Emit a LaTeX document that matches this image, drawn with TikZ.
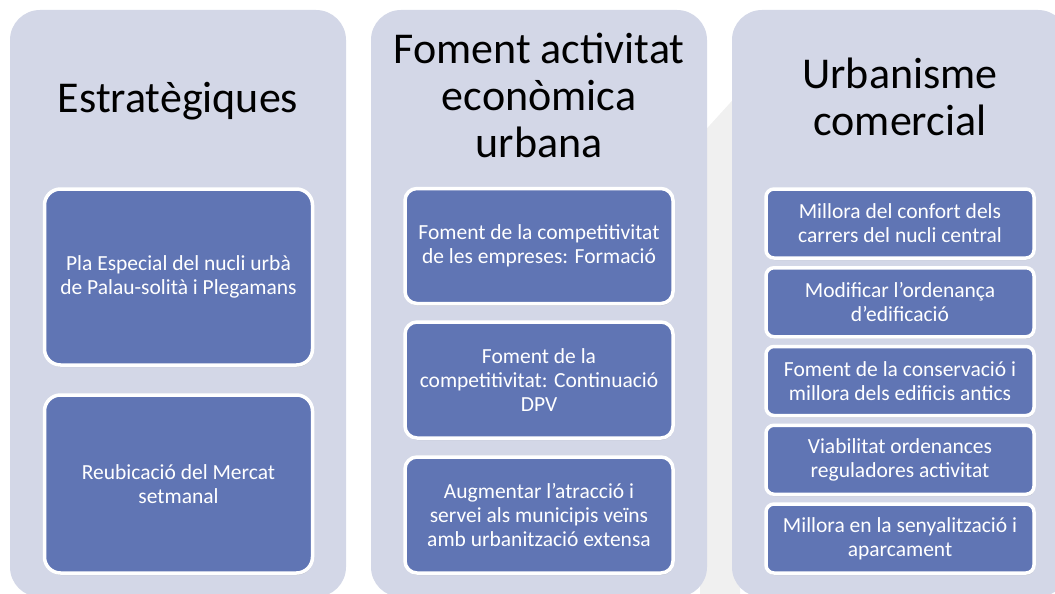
\documentclass[tikz,border=0pt]{standalone}
\usepackage{fontspec}
\setmainfont{Carlito}
\usetikzlibrary{shadows, positioning}
\definecolor{fonscol}{RGB}{211,215,231}
\definecolor{blaucaixa}{RGB}{96,117,180}
\tikzset{
    columna/.style={fill=fonscol, rounded corners=30pt},
    titol/.style={align=center, font=\fontsize{44}{47}\selectfont, inner sep=0pt, anchor=base},
    caixa/.style={draw=white, fill=blaucaixa, line width=3.5pt, text=white, align=center,
        font=\fontsize{21.5}{24}\selectfont, inner sep=0pt, minimum width=268pt,
        drop shadow={shadow xshift=0.6pt, shadow yshift=-2pt, opacity=0.3}},
}
\begin{document}
\begin{tikzpicture}[x=1pt, y=-1pt]
\useasboundingbox (0,0) rectangle (1055,594);
% faint arrow behind the columns
\fill[black!6] (700,136) -- (740,92) -- (740,600) -- (700,600) -- cycle;
% Columns
\fill[columna] (10,10) rectangle (346,597);
\fill[columna] (371,10) rectangle (707,597);
\fill[columna] (732,10) rectangle (1068,597);
% Column 1: estrategiques
\node[titol] (estr) at (178,112) {Estratègiques};
\node[caixa, rounded corners=16pt, minimum height=176pt] (pla) at (178.5,277)
    {Pla Especial del nucli urbà\\de Palau-solità i Plegamans};
\node[caixa, rounded corners=16pt, minimum height=178pt] (merc) at (178.5,484)
    {Reubicació del Mercat\\setmanal};
% Column 2: foment
\node[titol] (fom) at (539,157) {Foment activitat\\econòmica\\urbana};
\node[caixa, rounded corners=12pt, minimum height=115pt] (form) at (539,246)
    {Foment de la competitivitat\\de les empreses: Formació};
\node[caixa, rounded corners=12pt, minimum height=116pt] (dpv) at (539,380)
    {Foment de la\\competitivitat: Continuació\\DPV};
\node[caixa, rounded corners=12pt, minimum height=116pt] (atr) at (539,515)
    {Augmentar l’atracció i\\servei als municipis veïns\\amb urbanització extensa};
% Column 3: urbanisme
\node[titol] (urb) at (900,135) {Urbanisme\\comercial};
\foreach \y/\txt [count=\i] in {
    223.5/{Millora del confort dels\\carrers del nucli central},
    302.25/{Modificar l’ordenança\\d’edificació},
    381/{Foment de la conservació i\\millora dels edificis antics},
    459.75/{Viabilitat ordenances\\reguladores activitat},
    538.5/{Millora en la senyalització i\\aparcament}} {
    \node[caixa, rounded corners=8pt, minimum height=69pt] (u\i) at (900,\y) {\txt};
}
\end{tikzpicture}
\end{document}
